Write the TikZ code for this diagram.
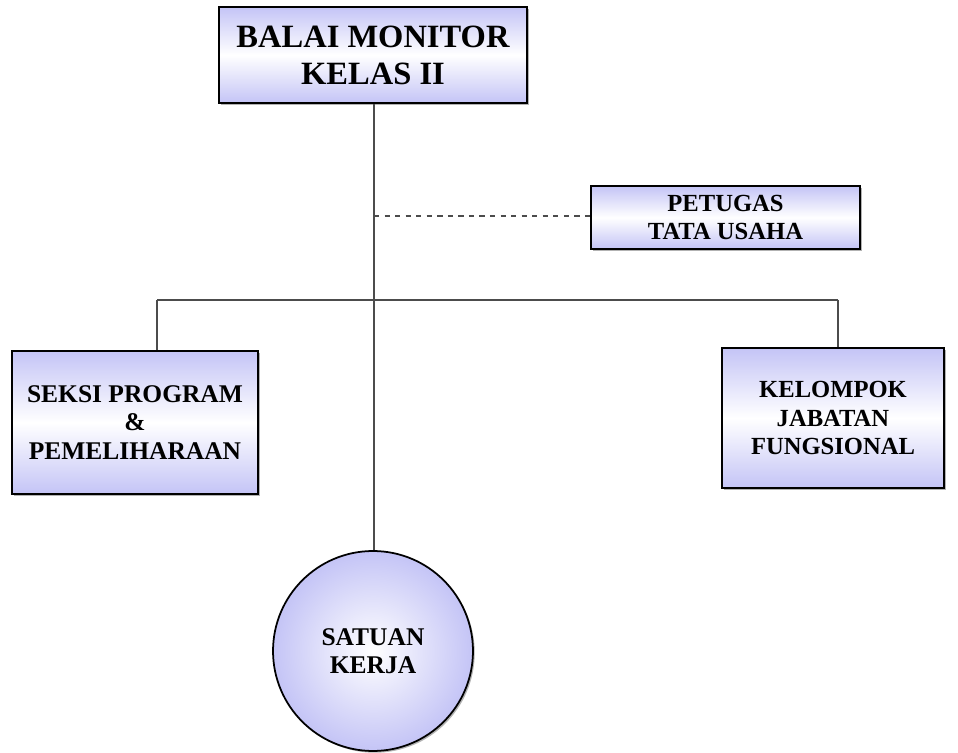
\documentclass[tikz,border=0pt]{standalone}
\usepackage{fontspec}
\setmainfont{Liberation Serif}
\usetikzlibrary{shadows}
\definecolor{lavender}{RGB}{196,196,246}
\begin{document}
\begin{tikzpicture}[x=0.02cm,y=-0.02cm,
		unitbox/.style={draw=black, line width=1.2pt, top color=lavender, bottom color=lavender, middle color=white, align=center, font=\bfseries, inner sep=0pt, drop shadow={shadow xshift=1.2pt, shadow yshift=-1.2pt, fill=gray!60, opacity=1}},
		unitcircle/.style={draw=black, line width=1pt, circle, inner color=white, outer color=lavender, align=center, font=\bfseries, inner sep=0pt, minimum size=4cm, drop shadow={shadow xshift=1pt, shadow yshift=-1pt, fill=gray!60, opacity=1}},
		link/.style={draw=black!70, line width=0.8pt}]
				\useasboundingbox (0,0) rectangle (958,753);
				%\fill[white] (0,0) rectangle (958,753);
				\node[unitbox, minimum width=6.16cm, minimum height=1.92cm, font=\bfseries\fontsize{18.5}{21}\selectfont] (balai) at (373,55) {BALAI MONITOR\\KELAS II};
				\node[unitbox, minimum width=5.38cm, minimum height=1.26cm, font=\bfseries\fontsize{14}{16}\selectfont] (tu) at (725.5,217.5) {PETUGAS\\TATA USAHA};
				\node[unitbox, minimum width=4.92cm, minimum height=2.86cm, font=\bfseries\fontsize{14.5}{16}\selectfont] (seksi) at (135,422.5) {SEKSI PROGRAM\\\&\\PEMELIHARAAN};
				\node[unitbox, minimum width=4.44cm, minimum height=2.8cm, font=\bfseries\fontsize{14}{16}\selectfont] (jabatan) at (833,418) {KELOMPOK\\JABATAN\\FUNGSIONAL};
				\node[unitcircle, font=\bfseries\fontsize{14.5}{16}\selectfont] (satker) at (373,651) {SATUAN\\KERJA};
				\coordinate (hub) at (374,300);
				\coordinate (tap) at (374,216);
				\coordinate (left) at (157,300);
				\coordinate (right) at (838,300);
				\draw[link] (balai.south -| hub) -- (satker.north -| hub);
				\draw[link, dashed] (tap) -- (tu.west |- tap);
				\draw[link] (left) -- (right);
				\draw[link] (left) -- (seksi.north -| left);
				\draw[link] (right) -- (jabatan.north -| right);
			\end{tikzpicture}
\end{document}
